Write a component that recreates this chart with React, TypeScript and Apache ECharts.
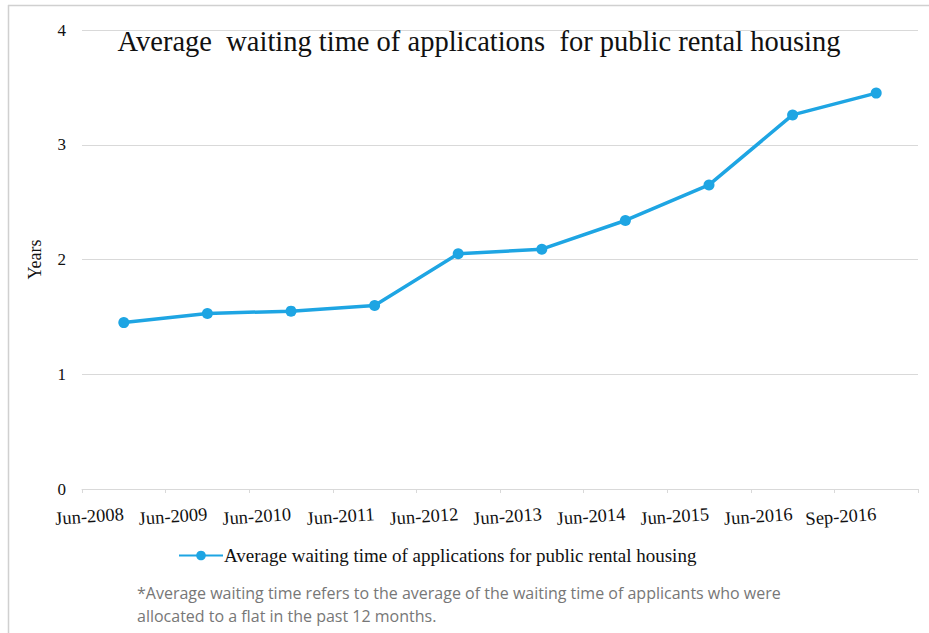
import React, { useEffect, useRef } from "react";
import * as echarts from "echarts";

const categories = ["Jun-2008", "Jun-2009", "Jun-2010", "Jun-2011", "Jun-2012", "Jun-2013", "Jun-2014", "Jun-2015", "Jun-2016", "Sep-2016"];
const waitingYears = [1.45, 1.53, 1.55, 1.6, 2.05, 2.09, 2.34, 2.65, 3.26, 3.45];
const seriesName = "Average waiting time of applications for public rental housing";
const titleText = "Average  waiting time of applications  for public rental housing";
const footnoteLines = [
  "*Average waiting time refers to the average of the waiting time of applicants who were",
  "allocated to a flat in the past 12 months.",
];

export default function App() {
  const ref = useRef<HTMLDivElement>(null);
  useEffect(() => {
    if (!ref.current) return;
    const chart = echarts.init(ref.current, null, { renderer: "svg" });
    const serif = "'Liberation Serif', 'Times New Roman', serif";
    chart.setOption({
      animation: false,
      backgroundColor: "#ffffff",
      title: {
        text: titleText,
        left: 474,
        top: 22,
        textAlign: "center",
        textStyle: { fontFamily: serif, fontSize: 28.5, fontWeight: "normal", color: "#111" },
      },
      grid: { left: 82, right: 11, top: 30, bottom: 144 },
      legend: {
        data: [seriesName],
        left: 173,
        top: 541,
        itemWidth: 44,
        itemHeight: 12,
        itemGap: 0,
        textStyle: { fontFamily: serif, fontSize: 19, color: "#111", padding: [0, 0, 0, -4] },
      },
      xAxis: {
        type: "category",
        data: categories,
        boundaryGap: true,
        axisLine: { lineStyle: { color: "#d9d9d9" } },
        axisTick: { show: true, length: 4, lineStyle: { color: "#d9d9d9" } },
        axisLabel: {
          rotate: 4,
          interval: 0,
          margin: 25,
          fontFamily: serif,
          fontSize: 18.5,
          color: "#111",
        },
      },
      yAxis: {
        type: "value",
        min: 0,
        max: 4,
        interval: 1,
        name: "Years",
        nameLocation: "middle",
        nameGap: 38,
        nameRotate: 90,
        nameTextStyle: { fontFamily: serif, fontSize: 18, color: "#111" },
        axisLine: { show: false },
        axisTick: { show: false },
        axisLabel: { fontFamily: serif, fontSize: 17, color: "#111", margin: 16 },
        splitLine: { lineStyle: { color: "#d9d9d9" } },
      },
      series: [
        {
          name: seriesName,
          type: "line",
          data: waitingYears,
          symbol: "circle",
          symbolSize: 11,
          lineStyle: { color: "#1ea5e3", width: 3.5 },
          itemStyle: { color: "#1ea5e3" },
        },
      ],
      graphic: [
        { type: "line", shape: { x1: 8.5, y1: 5, x2: 8.5, y2: 633 }, style: { stroke: "#d0d0d0", lineWidth: 1.5 } },
        { type: "line", shape: { x1: 8, y1: 5.5, x2: 929, y2: 5.5 }, style: { stroke: "#d0d0d0", lineWidth: 1.5 } },
        {
          type: "text",
          left: 137,
          top: 581,
          style: {
            text: footnoteLines.join("\n"),
            fontFamily: "'Open Sans', sans-serif",
            fontSize: 16,
            lineHeight: 23,
            fill: "#777",
          },
        },
      ],
    });
    return () => chart.dispose();
  }, []);
  return <div ref={ref} style={{ width: 929, height: 633, position: "absolute", left: 0, top: 0 }} />;
}
